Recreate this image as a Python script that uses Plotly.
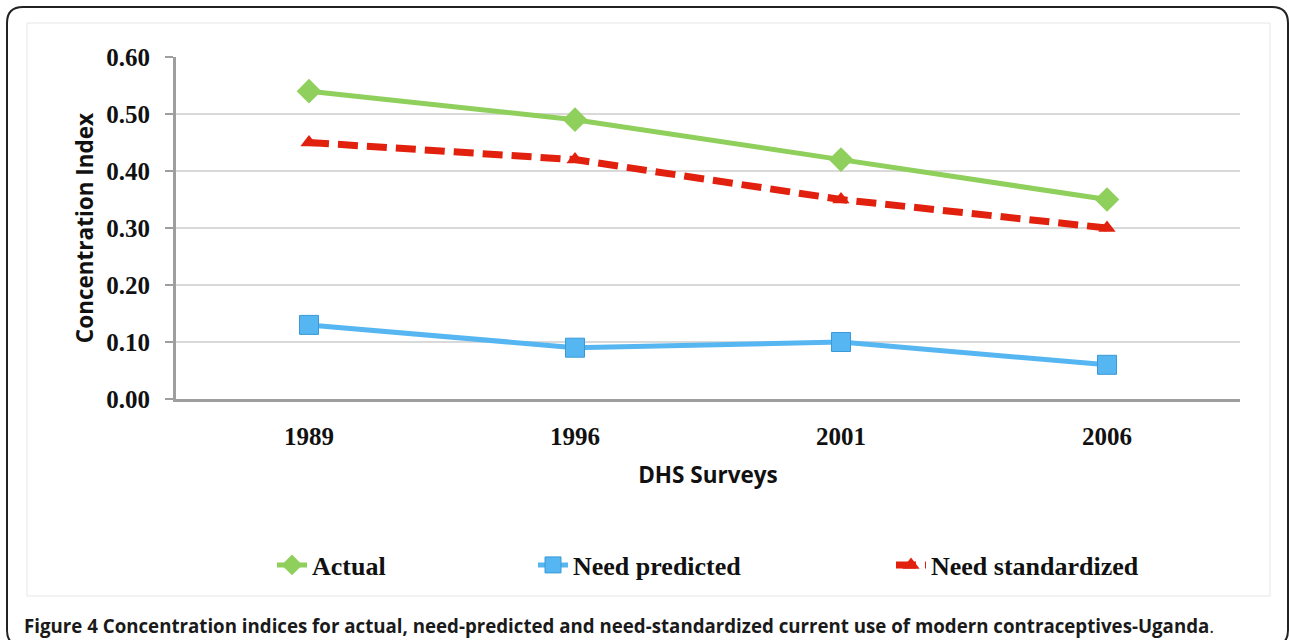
import plotly.graph_objects as go

# survey rounds and concentration indices
surveys = ["1989", "1996", "2001", "2006"]
actual = [0.54, 0.49, 0.42, 0.35]
need_predicted = [0.13, 0.09, 0.10, 0.06]
need_standardized = [0.45, 0.42, 0.35, 0.30]
y_ticks = [0.0, 0.1, 0.2, 0.3, 0.4, 0.5, 0.6]

W, H = 1289, 640
L, R, T, B = 176, 49, 57, 241
PW, PH = W - L - R, H - T - B


def px(x):
    return (x - L) / PW


def py(y):
    return (H - B - y) / PH


GREEN = "#8fcf5c"
BLUE = "#56b6f1"
RED = "#e1200e"
serif = "Liberation Serif"
sans = "Open Sans"

fig = go.Figure()
fig.add_trace(go.Scatter(x=surveys, y=actual, name="Actual", mode="lines+markers",
                         line=dict(color=GREEN, width=5),
                         marker=dict(symbol="diamond", size=19, color=GREEN),
                         legend="legend"))
fig.add_trace(go.Scatter(x=surveys, y=need_predicted, name="Need predicted", mode="lines+markers",
                         line=dict(color=BLUE, width=5),
                         marker=dict(symbol="square", size=19, color=BLUE,
                                     line=dict(color="#3a9ad8", width=1)),
                         legend="legend2"))
fig.add_trace(go.Scatter(x=surveys, y=need_standardized, name="Need standardized", mode="lines+markers",
                         line=dict(color=RED, width=7, dash="20px,9px"),
                         marker=dict(symbol="triangle-up", size=15, color=RED),
                         legend="legend3"))

leg_font = dict(family=serif, size=26, color="#111", weight="bold")
leg_common = dict(orientation="h", yanchor="middle", xanchor="left",
                  font=leg_font, bgcolor="rgba(0,0,0,0)", itemwidth=30)

# outer rounded frame and inner chart border
x0, x1, y0, y1, r = px(7), px(1288), py(7), py(646), 16
rx, ry = r / PW, r / PH
frame = (f"M {x0 + rx},{y0} L {x1 - rx},{y0} Q {x1},{y0} {x1},{y0 - ry} "
         f"L {x1},{y1 + ry} Q {x1},{y1} {x1 - rx},{y1} L {x0 + rx},{y1} "
         f"Q {x0},{y1} {x0},{y1 + ry} L {x0},{y0 - ry} Q {x0},{y0} {x0 + rx},{y0} Z")

tick_font = dict(family=serif, size=25, color="#111", weight="bold")
title_font = dict(family=sans, size=22.5, color="#111", weight="bold")

fig.update_layout(
    width=W, height=H, autosize=False,
    margin=dict(l=L, r=R, t=T, b=B),
    paper_bgcolor="white", plot_bgcolor="white",
    showlegend=True,
    legend=dict(x=px(272), y=py(565), **leg_common),
    legend2=dict(x=px(533), y=py(565), **leg_common),
    legend3=dict(x=px(891), y=py(565), **leg_common),
    xaxis=dict(type="category", range=[-0.5, 3.5], showgrid=False, zeroline=False,
               showline=True, linecolor="#9e9e9e", linewidth=3, ticks="",
               ticklabelstandoff=13, tickfont=tick_font,
               title=dict(text="DHS Surveys", standoff=19, font=title_font)),
    yaxis=dict(range=[0, 0.6], tickvals=y_ticks, tickformat=".2f",
               showgrid=True, gridcolor="#d9d9d9", gridwidth=2, zeroline=False,
               showline=True, linecolor="#9e9e9e", linewidth=3,
               ticks="outside", ticklen=8, tickcolor="#9e9e9e", tickwidth=2,
               ticklabelstandoff=10, tickfont=tick_font,
               title=dict(text="Concentration Index", standoff=7, font=title_font)),
    shapes=[
        dict(type="rect", xref="paper", yref="paper", x0=px(27), x1=px(1270), y0=py(23), y1=py(596),
             line=dict(color="#e6e6e6", width=1), layer="below"),
        dict(type="path", xref="paper", yref="paper", path=frame,
             line=dict(color="#222", width=2)),
    ],
    annotations=[
        dict(xref="paper", yref="paper", x=px(22), y=py(625), xanchor="left", yanchor="middle",
             showarrow=False,
             text="<b>Figure 4 Concentration indices for actual, need-predicted and need-standardized "
                  "current use of modern contraceptives-Uganda</b>.",
             font=dict(family="Open Sans", size=18.7, color="#1a1a1a")),
    ],
)

# drop the default 8px page margin so the figure sits at the window corner
fig.write_html("out.html", config={"displayModeBar": False},
               post_script="document.body.style.margin='0';")
